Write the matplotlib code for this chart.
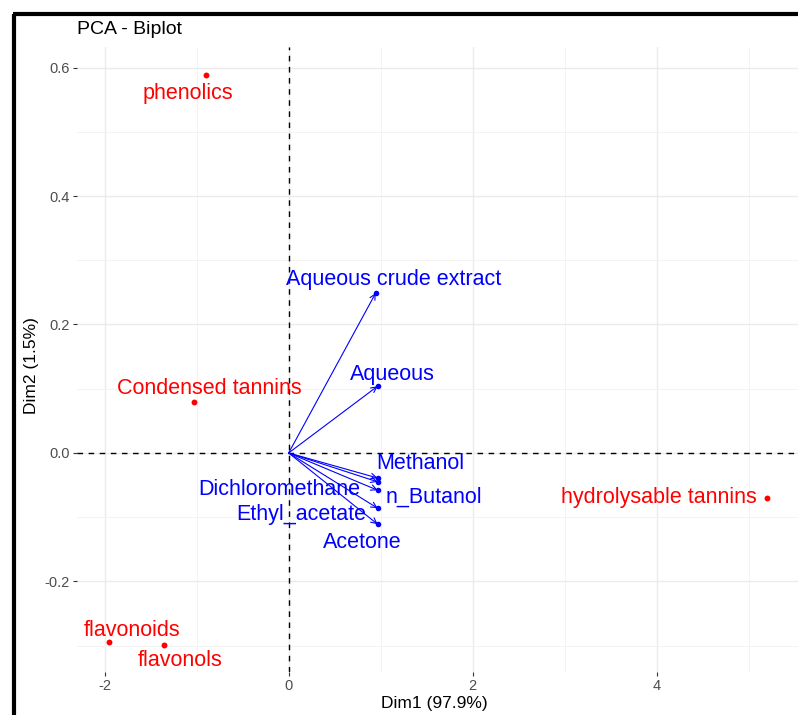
import matplotlib
matplotlib.use("Agg")
import matplotlib.pyplot as plt
from matplotlib.lines import Line2D
from matplotlib.ticker import MultipleLocator

plt.rcParams['font.family'] = ['Liberation Sans', 'DejaVu Sans']
plt.rcParams['axes.unicode_minus'] = False

# individuals (rows of the PCA)
ind_names = ['phenolics', 'Condensed tannins', 'hydrolysable tannins', 'flavonoids', 'flavonols']
ind_x = [-0.90, -1.03, 5.20, -1.95, -1.35]
ind_y = [0.588, 0.079, -0.070, -0.294, -0.299]

# variables (arrows)
var_names = ['Aqueous crude extract', 'Aqueous', 'Methanol', 'Dichloromethane',
             'n_Butanol', 'Ethyl_acetate', 'Acetone']
var_x = [0.946, 0.967, 0.967, 0.967, 0.967, 0.967, 0.967]
var_y = [0.249, 0.104, -0.039, -0.045, -0.058, -0.086, -0.111]

# label offsets in pixels (repelled positions)
ind_offsets = [(-18, -18), (15, 14), (-108, 0), (23, 11), (16, -15)]
var_offsets = [(18, 14), (15, 12), (43, 15), (-98, -8), (56, -7), (-76, -6), (-15, -18)]

fig = plt.figure(figsize=(7.98, 7.15), dpi=100)
ax = fig.add_axes([77 / 798, 43 / 715, 727 / 798, 625 / 715])

ax.set_xlim(-2.30, 5.60)
ax.set_ylim(-0.341, 0.632)

# grid
ax.xaxis.set_major_locator(MultipleLocator(2))
ax.xaxis.set_minor_locator(MultipleLocator(1))
ax.yaxis.set_major_locator(MultipleLocator(0.2))
ax.yaxis.set_minor_locator(MultipleLocator(0.1))
ax.grid(which='major', color='#ebebeb', lw=1.0)
ax.grid(which='minor', color='#f3f3f3', lw=0.7)
ax.set_axisbelow(True)
ax.yaxis.set_major_formatter(plt.FuncFormatter(lambda v, p: f"{v:.1f}"))
ax.tick_params(which='major', length=3, width=0.8, color='#333333', labelcolor='#4d4d4d',
               labelsize=10.5, pad=2)
ax.tick_params(which='minor', length=0)
for s in ax.spines.values():
    s.set_visible(False)

# origin lines
ax.axhline(0, color='black', lw=1.0, ls=(0, (4, 4)), zorder=1)
ax.axvline(0, color='black', lw=1.0, ls=(0, (4, 4)), zorder=1)

# individuals
ax.scatter(ind_x, ind_y, s=18, color='red', zorder=3, linewidths=0)
for name, x, y, off in zip(ind_names, ind_x, ind_y, ind_offsets):
    ax.annotate(name, (x, y), xytext=off, textcoords='offset pixels',
                ha='center', va='center', color='red', fontsize=15.5)

# variable arrows
for name, x, y, off in zip(var_names, var_x, var_y, var_offsets):
    ax.annotate('', xy=(x, y), xytext=(0, 0),
                arrowprops=dict(arrowstyle='->', color='blue', lw=0.8,
                                shrinkA=0, shrinkB=0, mutation_scale=10))
    ax.annotate(name, (x, y), xytext=off, textcoords='offset pixels',
                ha='center', va='center', color='blue', fontsize=15.5)
ax.scatter(var_x, var_y, s=16, color='blue', zorder=3, linewidths=0)

ax.set_xlabel('Dim1 (97.9%)', fontsize=12.5)
ax.set_ylabel('Dim2 (1.5%)', fontsize=12.5)
ax.xaxis.set_label_coords(0.491, -0.038)
ax.yaxis.set_label_coords(-0.052, 0.49)
fig.text(77 / 798, 1 - 30 / 715, 'PCA - Biplot', fontsize=14, ha='left', va='center')

# window frame
fig.add_artist(Line2D([14 / 798, 14 / 798], [0, 1 - 14 / 715], color='black', lw=3,
                      solid_capstyle='butt'))
fig.add_artist(Line2D([12.5 / 798, 1], [1 - 14 / 715, 1 - 14 / 715], color='black', lw=3,
                      solid_capstyle='butt'))

fig.savefig('out.png', dpi=100)
